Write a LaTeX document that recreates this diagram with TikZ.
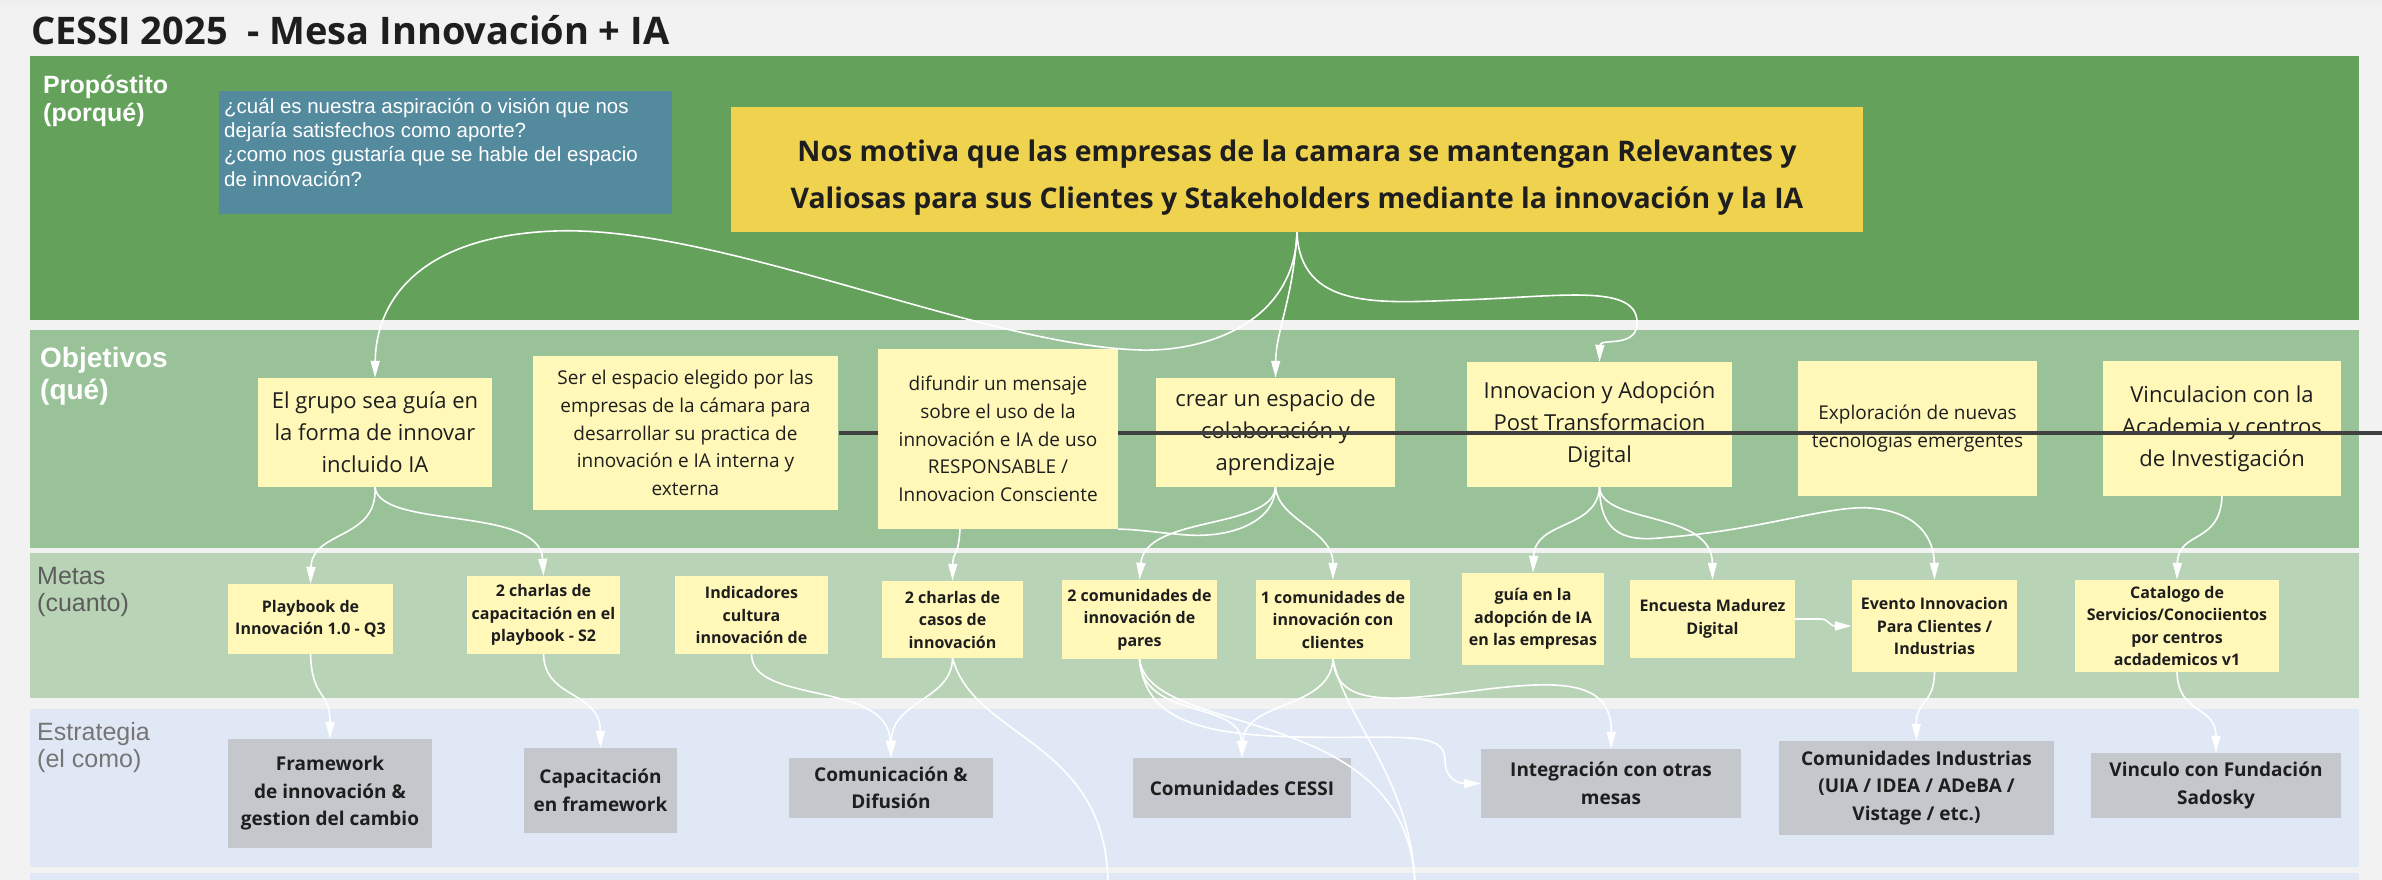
\documentclass[tikz,border=0pt]{standalone}
\usepackage{fontspec}
\setmainfont{Open Sans}
\newfontfamily\rotulo{Liberation Sans}
\usetikzlibrary{arrows.meta}

\definecolor{paper}{HTML}{F2F2F2}
\definecolor{proposito}{HTML}{64A15B}
\definecolor{objetivos}{HTML}{9AC298}
\definecolor{metas}{HTML}{B8D3B5}
\definecolor{estrategia}{HTML}{E1E8F5}
\definecolor{pregunta}{HTML}{548A9E}
\definecolor{motivo}{HTML}{EFD34F}
\definecolor{postit}{HTML}{FFF8B8}
\definecolor{caja}{HTML}{C4C7CC}
\definecolor{tinta}{HTML}{1E1E1E}
\definecolor{gris}{HTML}{5C5C5C}

\newcommand{\tam}[2]{\fontsize{#1}{#2}\selectfont}

\begin{document}
\begin{tikzpicture}[x=1pt, y=-1pt, >={Triangle[length=17pt,width=9pt]},
  nota/.style={fill=postit, text=tinta, align=center, inner sep=0pt},
  obj/.style={nota, font=\tam{22}{32}},
  objchico/.style={nota, font=\tam{19}{27.6}},
  meta/.style={nota, font=\bfseries\tam{16}{22.5}},
  estr/.style={fill=caja, text=tinta, align=center, inner sep=0pt, font=\bfseries\tam{19}{27.5}},
  etiqueta/.style={anchor=north west, align=left, inner sep=0pt, font=\rotulo\tam{25}{27}},
  conn/.style={draw=white, line width=1.6pt, ->},
  link/.style={draw=white, line width=1.6pt}]
\useasboundingbox (0,0) rectangle (2382,880);
\fill [paper] (0,0) rectangle (2382,880);
\shade [top color=black!7, bottom color=paper] (0,0) rectangle (2382,10);

% franjas
\fill [proposito] (30,56) rectangle (2359,320);
\fill [objetivos] (30,330) rectangle (2359,548);
\fill [metas] (30,553) rectangle (2359,698);
\fill [estrategia] (30,709) rectangle (2359,867);
\fill [estrategia] (30,873) rectangle (2359,880);

\node [anchor=base west, inner sep=0pt, text=tinta, font=\bfseries\tam{38}{42}] (titulo) at (31,45) {CESSI 2025\ \ - Mesa Innovación + IA};

\node [etiqueta, text=white, font=\rotulo\bfseries\tam{25}{28}] (lprop) at (43,75) {Propóstito\\(porqué)};
\node [etiqueta, text=white, font=\rotulo\bfseries\tam{28}{32}] (lobj) at (40,347) {Objetivos\\(qué)};
\node [etiqueta, text=gris] (lmetas) at (37,567) {Metas\\(cuanto)};
\node [etiqueta, text=gris!85] (lestr) at (37,722) {Estrategia\\(el como)};

% proposito
\node [anchor=north west, fill=pregunta, text=white, inner xsep=5pt, inner ysep=7pt, font=\rotulo\tam{20.5}{24.3}] (preg) at (219,91)
  {\parbox[b][109pt][t]{443pt}{¿cuál es nuestra aspiración o visión que nos\\dejaría satisfechos como aporte?\\¿como nos gustaría que se hable del espacio\\de innovación?}};
\node [fill=motivo, text=tinta, align=center, minimum width=1132pt, minimum height=125pt, font=\bfseries\tam{28.4}{47}] (motivo) at (1297,169.5)
  {\rule{0pt}{37pt}Nos motiva que las empresas de la camara se mantengan Relevantes y\\Valiosas para sus Clientes y Stakeholders mediante la innovación y la IA};

% objetivos
\node [obj, minimum width=234pt, minimum height=109pt] (grupo) at (375,432.5) {El grupo sea guía en\\la forma de innovar\\incluido IA};
\node [objchico, minimum width=305pt, minimum height=154pt] (elegido) at (685.5,433) {Ser el espacio elegido por las\\empresas de la cámara para\\desarrollar su practica de\\innovación e IA interna y\\externa};
\node [obj, minimum width=239pt, minimum height=109pt] (crear) at (1275.5,432.5) {crear un espacio de\\colaboración y\\aprendizaje};
\node [obj, minimum width=265pt, minimum height=125pt] (innovacion) at (1599.5,424.5) {Innovacion y Adopción\\Post Transformacion\\Digital};
\node [objchico, minimum width=239pt, minimum height=135pt] (exploracion) at (1917.5,428.5) {Exploración de nuevas\\tecnologias emergentes};
\node [obj, minimum width=238pt, minimum height=135pt] (vinculacion) at (2222,428.5) {Vinculacion con la\\Academia y centros\\de Investigación};
\draw [line width=4.5pt, black!75] (839,433) -- (2382,433);
\node [objchico, minimum width=240pt, minimum height=180pt] (difundir) at (998,439) {difundir un mensaje\\sobre el uso de la\\innovación e IA de uso\\RESPONSABLE /\\Innovacion Consciente};

% metas
\node [meta, minimum width=165pt, minimum height=70pt] (playbook) at (310.5,619) {Playbook de\\Innovación 1.0 - Q3};
\node [meta, minimum width=153pt, minimum height=78pt] (charlascap) at (543.5,615) {2 charlas de\\capacitación en el\\playbook - S2};
\node [meta, minimum width=153pt, minimum height=78pt] (indicadores) at (751.5,615) {Indicadores\\cultura\\innovación de};
\node [meta, minimum width=141pt, minimum height=77pt] (charlascasos) at (952.5,619.5) {2 charlas de\\casos de\\innovación};
\node [meta, minimum width=155pt, minimum height=79pt] (pares) at (1139.5,619.5) {2 comunidades de\\innovación de\\pares};
\node [meta, minimum width=154pt, minimum height=79pt] (clientes) at (1333,619.5) {1 comunidades de\\innovación con\\clientes};
\node [meta, minimum width=142pt, minimum height=92pt] (guia) at (1533,619) {guía en la\\adopción de IA\\en las empresas};
\node [meta, minimum width=165pt, minimum height=78pt] (encuesta) at (1712.5,619) {Encuesta Madurez\\Digital};
\node [meta, minimum width=165pt, minimum height=92pt] (evento) at (1934.5,626) {Evento Innovacion\\Para Clientes /\\Industrias};
\node [meta, minimum width=204pt, minimum height=92pt] (catalogo) at (2177,626) {Catalogo de\\Servicios/Conociientos\\por centros\\acdademicos v1};

% estrategia
\node [estr, minimum width=204pt, minimum height=109pt] (framework) at (330,793.5) {Framework\\de innovación \&\\gestion del cambio};
\node [estr, minimum width=153pt, minimum height=85pt] (capacitacion) at (600.5,790.5) {Capacitación\\en framework};
\node [estr, minimum width=204pt, minimum height=60pt] (comunicacion) at (891,788) {Comunicación \&\\Difusión};
\node [estr, minimum width=218pt, minimum height=60pt] (cessi) at (1242,788) {Comunidades CESSI};
\node [estr, minimum width=260pt, minimum height=69pt] (integracion) at (1611,783.5) {Integración con otras\\mesas};
\node [estr, minimum width=275pt, minimum height=94pt] (industrias) at (1916.5,788) {Comunidades Industrias\\(UIA / IDEA / ADeBA /\\Vistage / etc.)};
\node [estr, minimum width=250pt, minimum height=65pt] (sadosky) at (2216,785.5) {Vinculo con Fundación\\Sadosky};

\coordinate (salidaA) at (1108,886);
\coordinate (salidaB) at (1415,886);

% conectores
\path [conn] (motivo.south) .. controls (1295,320) and (1210,352) .. (1140,350) .. controls (980,345) and (720,225) .. (555,231) .. controls (420,236) and (376,300) .. (grupo.north);
\path [conn] (motivo.south) .. controls (1293,300) and (1276,330) .. (crear.north);
\path [conn] (motivo.south) .. controls (1300,310) and (1380,303) .. (1460,300) .. controls (1560,297) and (1640,282) .. (1637,325) .. controls (1635,348) and (1600,338) .. (innovacion.north);
\path [conn] (grupo.south) .. controls (378,540) and (312,530) .. (playbook.north);
\path [conn] (grupo.south) .. controls (380,530) and (540,505) .. (charlascap.north);
\path [conn] ([xshift=-38pt]difundir.south) .. controls (958,560) and (953,550) .. (charlascasos.north);
\path [link] (crear.south) .. controls (1275,520) and (1235,538) .. (1187,535) .. controls (1160,533) and (1135,529) .. (difundir.south east);
\path [conn] (crear.south) .. controls (1272,530) and (1145,515) .. (pares.north);
\path [conn] (crear.south) .. controls (1278,520) and (1333,530) .. (clientes.north);
\path [conn] (innovacion.south) .. controls (1597,530) and (1535,520) .. (guia.north);
\path [conn] (innovacion.south) .. controls (1602,525) and (1712,510) .. (encuesta.north);
\path [conn] (innovacion.south) .. controls (1600,545) and (1640,540) .. (1670,537) .. controls (1760,530) and (1830,505) .. (1870,508) .. controls (1920,512) and (1934,540) .. (evento.north);
\path [conn] (vinculacion.south) .. controls (2220,545) and (2178,530) .. (catalogo.north);
\path [conn] (encuesta.east) -- (1820,619) .. controls (1830,619) and (1828,626) .. (1836,626) -- (evento.west);
\path [conn] (playbook.south) .. controls (312,700) and (330,690) .. (framework.north);
\path [conn] (charlascap.south) .. controls (545,700) and (600,690) .. (capacitacion.north);
\path [conn] (indicadores.south) .. controls (752,705) and (888,680) .. (comunicacion.north);
\path [conn] (charlascasos.south) .. controls (952,700) and (892,700) .. (comunicacion.north);
\path [link] (charlascasos.south) .. controls (975,740) and (1108,740) .. (salidaA);
\path [conn] (pares.south) .. controls (1142,720) and (1240,700) .. (cessi.north);
\path [conn] (pares.south) .. controls (1145,720) and (1200,735) .. (1300,737) .. controls (1400,739) and (1445,730) .. (1445,760) .. controls (1445,780) and (1460,783.5) .. (integracion.west);
\path [link] (pares.south) .. controls (1150,740) and (1410,700) .. (salidaB);
\path [conn] (clientes.south) .. controls (1330,710) and (1245,700) .. (cessi.north);
\path [link] (clientes.south) .. controls (1345,720) and (1412,780) .. (salidaB);
\path [conn] (clientes.south) .. controls (1336,710) and (1400,700) .. (1480,690) .. controls (1560,680) and (1612,680) .. (integracion.north);
\path [conn] (evento.south) .. controls (1934,705) and (1916,700) .. (industrias.north);
\path [conn] (catalogo.south) .. controls (2178,715) and (2216,705) .. (sadosky.north);
\end{tikzpicture}
\end{document}
